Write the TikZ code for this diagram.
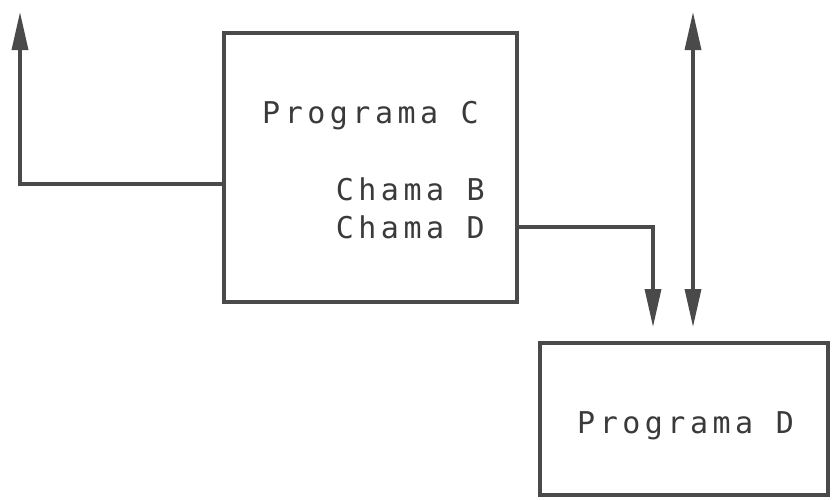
\documentclass[tikz,border=0pt]{standalone}
\usepackage{fontspec}
\setmonofont[LetterSpace=15]{DejaVu Sans Mono}
\usetikzlibrary{arrows.meta}
\definecolor{ink}{HTML}{4A4A4A}
\definecolor{txt}{HTML}{3A3A3A}
\tikzset{
  prog/.style={draw=ink, line width=3.4pt, minimum width=#1, inner sep=0pt},
  wire/.style={draw=ink, line width=3.4pt, -{Triangle[length=38pt,width=16pt]}},
  lbl/.style={text=txt, font=\ttfamily\fontsize{30}{36}\selectfont, inner sep=0pt},
}
\begin{document}
\begin{tikzpicture}[x=1pt,y=-1pt]
\useasboundingbox (0,0) rectangle (837,499);
\node[prog=293pt, minimum height=269pt] (c) at (370.5,167.5) {};
\node[prog=288pt, minimum height=152pt] (d) at (684,419) {};
\node[lbl, anchor=base west] (tc) at (262,123) {Programa C};
\node[lbl, anchor=base east] (tb) at (485,200) {Chama B};
\node[lbl, anchor=base east] (td) at (485,238) {Chama D};
\node[lbl, anchor=base west] (tdd) at (577,433) {Programa D};
\coordinate (lo) at (224,184);
\coordinate (lt) at (20,12);
\coordinate (ro) at (517,227);
\coordinate (rt) at (653,327);
\coordinate (ut) at (693,12);
\coordinate (ub) at (693,327);
\draw[wire] (lo) -| (lt);
\draw[wire] (ro) -| (rt);
\draw[wire, {Triangle[length=38pt,width=16pt]}-{Triangle[length=38pt,width=16pt]}] (ut) -- (ub);
\end{tikzpicture}
\end{document}
